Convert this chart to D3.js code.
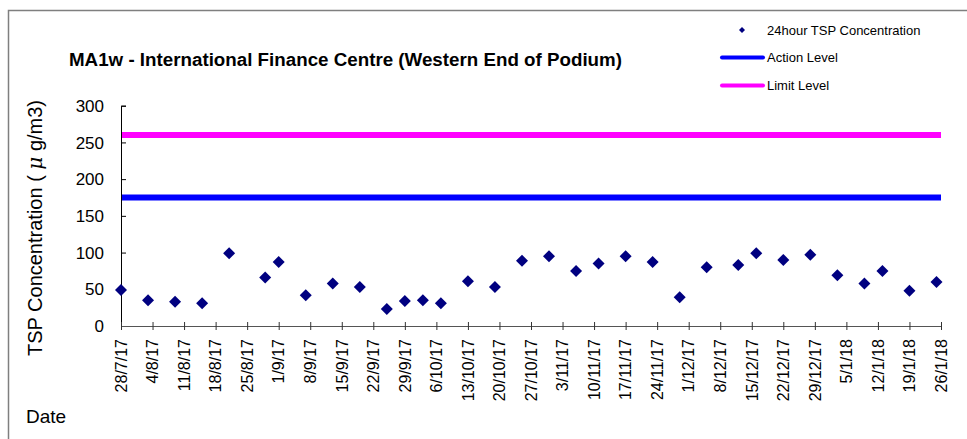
<!DOCTYPE html>
<html>
<head>
  <script src="https://d3js.org/d3.v7.min.js"></script>
  <style>
    body { margin: 0; background: #fff; font-family: Arial, "Liberation Sans", sans-serif; }
  </style>
</head>
<body>
<div id="chart"></div>
<script>
// data
const dates = ["2017-07-28","2017-08-03","2017-08-09","2017-08-15","2017-08-21","2017-08-29","2017-09-01",
  "2017-09-07","2017-09-13","2017-09-19","2017-09-25","2017-09-29","2017-10-03","2017-10-07","2017-10-13",
  "2017-10-19","2017-10-25","2017-10-31","2017-11-06","2017-11-11","2017-11-17","2017-11-23","2017-11-29",
  "2017-12-05","2017-12-12","2017-12-16","2017-12-22","2017-12-28","2018-01-03","2018-01-09","2018-01-13",
  "2018-01-19","2018-01-25"];
const tsp = [49, 35, 33, 31, 99, 66, 87, 42, 58, 53, 23, 34, 35, 31, 61, 53, 89, 95, 75, 85, 95, 87, 39,
  80, 83, 99, 90, 97, 69, 58, 75, 48, 60];
const actionLevel = 175;
const limitLevel = 260;
const yTicks = [0, 50, 100, 150, 200, 250, 300];
const xStart = "2017-07-28", xEnd = "2018-01-26";

const width = 967, height = 439;
const margin = { left: 121, right: 26, top: 105.7, bottom: 113 };

const parse = d3.timeParse("%Y-%m-%d");
const fmt = d => d.getDate() + "/" + (d.getMonth() + 1) + "/" + String(d.getFullYear()).slice(2);
const data = dates.map((d, i) => ({ date: parse(d), value: tsp[i] }));

const svg = d3.select("#chart").append("svg")
  .attr("width", width).attr("height", height);

// outer chart frame
svg.append("path")
  .attr("d", `M8.5,${height} V10.5 H${width}`)
  .attr("fill", "none").attr("stroke", "#7f7f7f").attr("stroke-width", 1.5);

const x = d3.scaleTime()
  .domain([parse(xStart), parse(xEnd)])
  .range([margin.left, width - margin.right]);
const y = d3.scaleLinear()
  .domain([0, 300])
  .range([height - margin.bottom, margin.top]);

// weekly ticks
const ticks = d3.range(0, 27).map(i => d3.timeDay.offset(parse(xStart), i * 7));

// level lines
svg.append("line")
  .attr("x1", x.range()[0]).attr("x2", x.range()[1])
  .attr("y1", y(actionLevel)).attr("y2", y(actionLevel))
  .attr("stroke", "#0000ff").attr("stroke-width", 6);
svg.append("line")
  .attr("x1", x.range()[0]).attr("x2", x.range()[1])
  .attr("y1", y(limitLevel)).attr("y2", y(limitLevel))
  .attr("stroke", "#ff00ff").attr("stroke-width", 6);

// y axis
const yAxis = svg.append("g")
  .attr("transform", `translate(${margin.left},0)`)
  .call(d3.axisRight(y).tickValues(yTicks).tickSize(5).tickFormat(""));
yAxis.select(".domain").attr("stroke", "#000");
yAxis.selectAll(".tick line").attr("stroke", "#000");
svg.append("g").selectAll("text").data(yTicks).join("text")
  .attr("x", 104).attr("y", d => y(d)).attr("dy", "0.36em")
  .attr("text-anchor", "end").attr("font-size", 17).attr("fill", "#000")
  .text(d => d);

// x axis
const xAxis = svg.append("g")
  .attr("transform", `translate(0,${y(0)})`)
  .call(d3.axisBottom(x).tickValues(ticks).tickSize(4).tickSizeOuter(0).tickFormat(""));
xAxis.select(".domain").attr("stroke", "#555");
xAxis.selectAll(".tick line").attr("stroke", "#333").attr("y1", -4);
svg.append("g").selectAll("text").data(ticks).join("text")
  .attr("transform", d => `translate(${x(d)},${y(0) + 13}) rotate(-90)`)
  .attr("dy", "0.36em")
  .attr("text-anchor", "end").attr("font-size", 16).attr("fill", "#000")
  .text(fmt);

// points
const diamond = s => `M0,${-s}L${s},0L0,${s}L${-s},0Z`;
svg.append("g").selectAll("path").data(data).join("path")
  .attr("transform", d => `translate(${x(d.date)},${y(d.value)})`)
  .attr("d", diamond(6))
  .attr("fill", "#000080");

// title
svg.append("text")
  .attr("x", 69).attr("y", 66)
  .attr("font-size", 17.5).attr("font-weight", "bold").attr("fill", "#000")
  .attr("textLength", 553).attr("lengthAdjust", "spacingAndGlyphs")
  .text("MA1w - International Finance Centre (Western End of Podium)");

// axis titles
svg.append("text")
  .attr("transform", "translate(42,228) rotate(-90)")
  .attr("text-anchor", "middle").attr("font-size", 20).attr("fill", "#000")
  .call(t => {
    t.append("tspan").text("TSP Concentration ( ");
    t.append("tspan").attr("font-style", "italic").attr("font-family", "DejaVu Serif").text("μ");
    t.append("tspan").text(" g/m3)");
  });
svg.append("text")
  .attr("x", 26).attr("y", 423)
  .attr("font-size", 19).attr("fill", "#000")
  .text("Date");

// legend
const lg = svg.append("g").attr("font-size", 13).attr("fill", "#000");
lg.append("path").attr("transform", "translate(742,30)").attr("d", diamond(3)).attr("fill", "#000080");
lg.append("text").attr("x", 767).attr("y", 35).text("24hour TSP Concentration");
lg.append("line").attr("x1", 722).attr("x2", 763).attr("y1", 57.5).attr("y2", 57.5)
  .attr("stroke", "#0000ff").attr("stroke-width", 4).attr("stroke-linecap", "round");
lg.append("text").attr("x", 767).attr("y", 62).text("Action Level");
lg.append("line").attr("x1", 722).attr("x2", 763).attr("y1", 85.5).attr("y2", 85.5)
  .attr("stroke", "#ff00ff").attr("stroke-width", 4).attr("stroke-linecap", "round");
lg.append("text").attr("x", 767).attr("y", 90).text("Limit Level");
</script>
</body>
</html>
